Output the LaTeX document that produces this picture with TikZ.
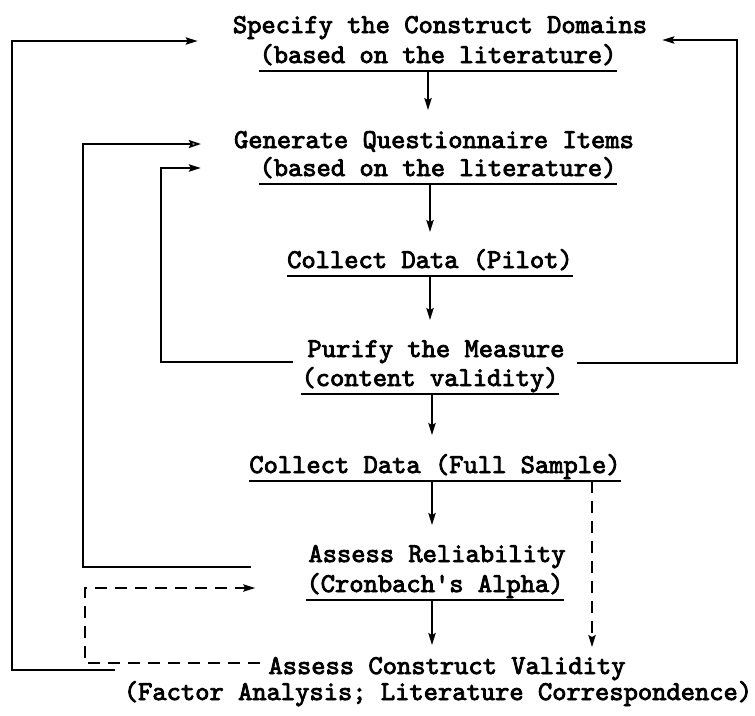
\documentclass[tikz,border=0pt]{standalone}
\usepackage{fontspec}
\usetikzlibrary{arrows.meta,calc}
% heavy typewriter face for the step labels
\newfontfamily\stepfont{lmmono10-regular}[Extension=.otf,FakeBold=3]
\begin{document}
\begin{tikzpicture}[x=0.75pt,y=-0.75pt,
  txt/.style={anchor=base,inner sep=0pt,
    font=\fontsize{20.4pt}{22.5pt}\selectfont\stepfont\bfseries},
  link/.style={line width=1.3pt},
  arr/.style={link,-{Stealth[length=9pt,width=5.5pt,inset=1.5pt]}},
  oarr/.style={link,-{Stealth[open,length=9pt,width=6pt,inset=1.5pt]}},
  darr/.style={arr,dash pattern=on 9pt off 6pt},
  ul/.style={line width=1.3pt}]
\useasboundingbox (0,0) rectangle (755,715);

% process steps
\node[txt] (s1) at (440,33) {Specify the Construct Domains};
\node[txt] (s2) at (438,63) {(based on the literature)};
\node[txt] (g1) at (434,148) {Generate Questionnaire Items};
\node[txt] (g2) at (438,176) {(based on the literature)};
\node[txt] (c1) at (430,268) {Collect Data (Pilot)};
\node[txt] (p1) at (436,357) {Purify the Measure};
\node[txt] (p2) at (430,386) {(content validity)};
\node[txt] (f1) at (435,473) {Collect Data (Full Sample)};
\node[txt] (r1) at (437,562) {Assess Reliability};
\node[txt] (r2) at (435,592) {(Cronbach\textquotesingle s Alpha)};
\node[txt] (v1) at (447,674) {Assess Construct Validity};
\node[txt] (v2) at (438,700) {(Factor Analysis; Literature Correspondence)};

% underlines
\foreach \n in {s2,g2,c1,p2,f1,r2}
  \draw[ul] ($(\n.base west)+(0,8)$) -- ($(\n.base east)+(0,8)$);

% main flow
\coordinate (spa) at (428,0);
\coordinate (spb) at (430,0);
\coordinate (spc) at (432,0);
\coordinate (dsp) at (592,0);
\draw[arr] ($(s2.base -| spa)+(0,8)$) -- ($(g1.base -| spa)+(0,-38)$);
\draw[arr] ($(g2.base -| spb)+(0,8)$) -- ($(c1.base -| spb)+(0,-36)$);
\draw[arr] ($(c1.base -| spb)+(0,9)$) -- ($(p1.base -| spb)+(0,-37)$);
\draw[arr] ($(p2.base -| spc)+(0,8)$) -- ($(f1.base -| spc)+(0,-38)$);
\draw[arr] ($(f1.base -| spc)+(0,8)$) -- ($(r1.base -| spc)+(0,-37)$);
\draw[arr] ($(r2.base -| spc)+(0,8)$) -- ($(v1.base -| spc)+(0,-29)$);
\draw[darr] ($(f1.base -| dsp)+(0,8)$) -- ($(v1.base -| dsp)+(0,-27)$);

% feedback loops
\coordinate (o1) at (115,670);
\draw[arr] (o1) -- (12,670) -- (12,41) -- ($(s1.base west)+(-35,8)$);
\draw[oarr] ($(r1.base west)+(-57,5)$) -- (83,567) -- (83,144)
  -- ($(g1.base west)+(-33,-4)$);
\draw[arr] ($(p1.base west)+(-14,5)$) -- (161,362) -- (161,168)
  -- ($(g1.base west)+(-33,20)$);
\draw[arr] ($(p1.base east)+(12,6)$) -- (737,363) -- (737,40)
  -- ($(s1.base east)+(15,7)$);
\draw[darr] ($(v1.base west)+(-8,-11)$) -- (85,663) -- (85,588)
  -- ($(r2.base west)+(-51,-4)$);
\end{tikzpicture}
\end{document}
